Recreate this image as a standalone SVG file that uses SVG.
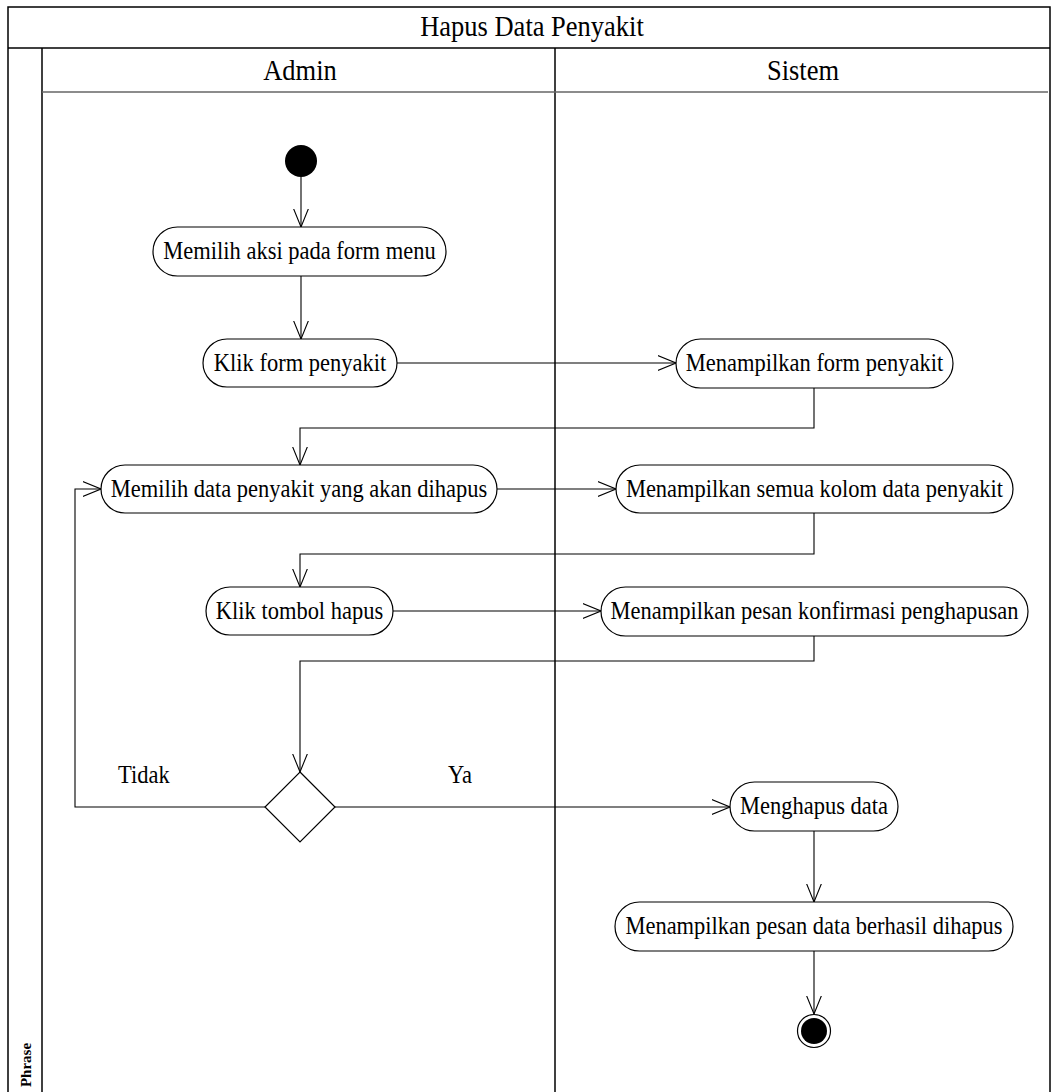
<svg xmlns="http://www.w3.org/2000/svg" width="1054" height="1092" viewBox="0 0 1054 1092">
  <style>
    .frame { fill: none; stroke: #000; stroke-width: 1.5; }
    .sep { fill: none; stroke: #666; stroke-width: 1.5; }
    .act { fill: #fff; stroke: #000; stroke-width: 1.2; }
    .lbl { font-family: "Liberation Serif", "Times New Roman", serif; font-size: 22.5px; fill: #000; }
    .hdr { font-family: "Liberation Serif", "Times New Roman", serif; font-size: 26.5px; fill: #000; }
    .edge { fill: none; stroke: #000; stroke-width: 1.1; marker-end: url(#open); }
  </style>
  <defs>
    <marker id="open" markerUnits="userSpaceOnUse" viewBox="0 0 19 16" markerWidth="19" markerHeight="16" refX="18.5" refY="8" orient="auto">
      <path d="M0,0.5 L18.5,8 L0,15.5" fill="none" stroke="#000" stroke-width="1.1"/>
    </marker>
  </defs>
  <rect width="1054" height="1092" fill="#fff"/>

  <!-- swimlane frame; labels are drawn slightly tall (matrix scales y by 1.15) -->
  <g id="swimlanes">
    <rect class="frame" x="8" y="7" width="1042" height="1090"/>
    <line class="frame" x1="8" y1="48" x2="1050" y2="48"/>
    <line class="frame" x1="42" y1="48" x2="42" y2="1092"/>
    <line class="frame" x1="555" y1="48" x2="555" y2="1092" stroke-width="2"/>
    <line class="sep" x1="42" y1="92" x2="1048" y2="92"/>
    <text class="hdr" transform="matrix(1 0 0 1.12 532 36)" text-anchor="middle">Hapus Data Penyakit</text>
    <text class="hdr" transform="matrix(1 0 0 1.12 300 80)" text-anchor="middle">Admin</text>
    <text class="hdr" transform="matrix(1 0 0 1.12 803 80)" text-anchor="middle">Sistem</text>
    <text transform="translate(31,1065) rotate(-90)" text-anchor="middle" font-family="Liberation Serif, Times New Roman, serif" font-size="15" font-weight="bold">Phrase</text>
  </g>

  <!-- connectors -->
  <g id="connectors">
    <path class="edge" d="M301,177 V227"/>
    <path class="edge" d="M301,276 V339"/>
    <path class="edge" d="M397,363 H676"/>
    <path class="edge" d="M814,388 V428 H300 V465"/>
    <path class="edge" d="M497,489 H616"/>
    <path class="edge" d="M814,513 V554 H300 V587"/>
    <path class="edge" d="M393,611 H601"/>
    <path class="edge" d="M814,636 V661 H300 V772"/>
    <path class="edge" d="M265,807 H75 V489 H101"/>
    <path class="edge" d="M335,807 H730"/>
    <path class="edge" d="M814,831 V902"/>
    <path class="edge" d="M814,951 V1014"/>
    <text class="lbl" transform="matrix(1 0 0 1.15 118 783)">Tidak</text>
    <text class="lbl" transform="matrix(1 0 0 1.15 448 783)">Ya</text>
  </g>

  <!-- nodes -->
  <g id="start">
    <circle cx="301" cy="161" r="16" fill="#000"/>
  </g>
  <g id="pilih-aksi">
    <rect class="act" x="153" y="227" width="293" height="49" rx="24.5"/>
    <text class="lbl" transform="matrix(1 0 0 1.15 299.5 259)" text-anchor="middle">Memilih aksi pada form menu</text>
  </g>
  <g id="klik-form">
    <rect class="act" x="203" y="339" width="194" height="48" rx="24"/>
    <text class="lbl" transform="matrix(1 0 0 1.15 300 371)" text-anchor="middle">Klik form penyakit</text>
  </g>
  <g id="tampil-form">
    <rect class="act" x="676" y="339" width="277" height="49" rx="24.5"/>
    <text class="lbl" transform="matrix(1 0 0 1.15 814.5 371)" text-anchor="middle">Menampilkan form penyakit</text>
  </g>
  <g id="pilih-data">
    <rect class="act" x="101" y="465" width="396" height="48" rx="24"/>
    <text class="lbl" transform="matrix(1 0 0 1.15 299 497)" text-anchor="middle">Memilih data penyakit yang akan dihapus</text>
  </g>
  <g id="tampil-kolom">
    <rect class="act" x="616" y="465" width="397" height="48" rx="24"/>
    <text class="lbl" transform="matrix(1 0 0 1.15 814.5 497)" text-anchor="middle">Menampilkan semua kolom data penyakit</text>
  </g>
  <g id="klik-hapus">
    <rect class="act" x="206" y="587" width="187" height="48" rx="24"/>
    <text class="lbl" transform="matrix(1 0 0 1.15 299.5 619)" text-anchor="middle">Klik tombol hapus</text>
  </g>
  <g id="tampil-konfirmasi">
    <rect class="act" x="601" y="587" width="427" height="49" rx="24.5"/>
    <text class="lbl" transform="matrix(1 0 0 1.15 814.5 619)" text-anchor="middle">Menampilkan pesan konfirmasi penghapusan</text>
  </g>
  <g id="keputusan">
    <polygon class="act" points="300,772 335,807 300,842 265,807"/>
  </g>
  <g id="hapus-data">
    <rect class="act" x="730" y="782" width="168" height="49" rx="24.5"/>
    <text class="lbl" transform="matrix(1 0 0 1.15 814 814)" text-anchor="middle">Menghapus data</text>
  </g>
  <g id="tampil-berhasil">
    <rect class="act" x="615" y="902" width="398" height="49" rx="24.5"/>
    <text class="lbl" transform="matrix(1 0 0 1.15 814 934)" text-anchor="middle">Menampilkan pesan data berhasil dihapus</text>
  </g>
  <g id="end">
    <circle cx="814" cy="1031" r="16.5" fill="#fff" stroke="#000" stroke-width="1.2"/>
    <circle cx="814" cy="1031" r="13" fill="#000"/>
  </g>
</svg>
